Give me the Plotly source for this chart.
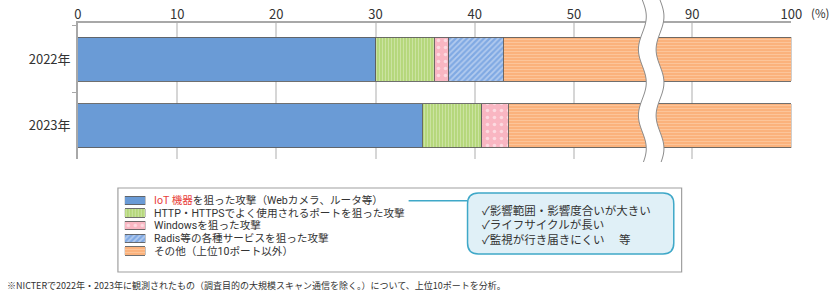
import math
import plotly.graph_objects as go

# ---------------- data ----------------
years = ["2022年", "2023年"]
iot = [30.0, 34.7]
http = [5.9, 6.0]
windows = [1.5, 2.7]
radis = [5.5, None]
other = [57.1, 56.6]

series_names = [
    '<span style="color:#e8403a">IoT 機器</span>を狙った攻撃（Webカメラ、ルータ等）',
    "HTTP・HTTPSでよく使用されるポートを狙った攻撃",
    "Windowsを狙った攻撃",
    "Radis等の各種サービスを狙った攻撃",
    "その他（上位10ポート以外）",
]
series_values = [iot, http, windows, radis, other]

left_ticks = [0, 10, 20, 30, 40, 50]
right_ticks = [90, 100]

callout_lines = [
    "✓影響範囲・影響度合いが大きい",
    "✓ライフサイクルが長い",
    "✓監視が行き届きにくい　 等",
]
footnote = "※NICTERで2022年・2023年に観測されたもの（調査目的の大規模スキャン通信を除く。）について、上位10ポートを分析。"

# ---------------- styles ----------------
W, H = 837, 296
FONT = "Noto Sans CJK JP, Noto Sans, sans-serif"
TFONT = "Roboto, Noto Sans CJK JP, sans-serif"
TXT = "#333333"
OUTLINE = dict(color="#5f5f5f", width=0.9)

markers = [
    dict(color="#6a9bd6", line=OUTLINE),
    dict(color="#b5d77b", line=OUTLINE,
         pattern=dict(shape="|", fillmode="overlay", fgcolor="#e4f2cc", size=3, solidity=0.35)),
    dict(color="#f9b6c2", line=OUTLINE,
         pattern=dict(shape=".", fillmode="overlay", fgcolor="#ffffff", size=7, solidity=0.2)),
    dict(color="#80a9e3", line=OUTLINE,
         pattern=dict(shape="/", fillmode="overlay", fgcolor="#e6eefa", size=4, solidity=0.45)),
    dict(color="#fbb27c", line=OUTLINE,
         pattern=dict(shape="-", fillmode="overlay", fgcolor="#fddcbf", size=3, solidity=0.3)),
]


def X(px):
    return px / W


def Y(py):
    return 1 - py / H


# plot geometry (pixels)
PL, PR = 75.3, 801.7
PT, PB = 23.0, 159.0
PXU = 10.1            # pixels per percentage unit
BREAK_L, BREAK_R = 650.0, 668.0
AMP = 4.0
LEFT_END = BREAK_L + AMP
RIGHT_START = BREAK_R - AMP

# legend text geometry
LEG_FONT = 10.6
LEG_STEP = 12.7
LEG_Y0 = 200.3
CALL_FONT = 11.5
CALL_Y = [210.7, 225.2, 239.7]

fig = go.Figure()

for name, vals, mk in zip(series_names, series_values, markers):
    for xa in ("x", "x2"):
        fig.add_trace(go.Bar(
            y=years, x=vals, orientation="h", name=name, marker=mk,
            xaxis=xa, yaxis="y", showlegend=False, hoverinfo="skip",
        ))

# legend swatches (own small axes)
for i, (name, mk) in enumerate(zip(series_names, markers)):
    fig.add_trace(go.Bar(
        y=[i], x=[1], orientation="h", marker=mk,
        xaxis="x3", yaxis="y3", showlegend=False, hoverinfo="skip",
    ))

axis_common = dict(
    showgrid=True, gridcolor="#d6d6d6", gridwidth=1.5,
    showline=True, linecolor="#a8a8a8", linewidth=1.5,
    side="top", ticks="", zeroline=False, ticklabelstandoff=-3,
    tickfont=dict(family=FONT, size=13, color=TXT),
    fixedrange=True,
)

left_range_max = (LEFT_END - PL) / PXU
right_range_min = 100 - (PR - RIGHT_START) / PXU

n = len(series_names)
sw_top = LEG_Y0 - LEG_STEP / 2
sw_bot = LEG_Y0 + (n - 1) * LEG_STEP + LEG_STEP / 2

fig.update_layout(
    width=W, height=H,
    margin=dict(l=0, r=0, t=0, b=0),
    paper_bgcolor="white", plot_bgcolor="white",
    barmode="stack", bargap=0.333,
    font=dict(family=FONT, color=TXT),
    xaxis=dict(axis_common, domain=[X(PL), X(LEFT_END)], range=[0, left_range_max],
               tickvals=left_ticks, anchor="y"),
    xaxis2=dict(axis_common, domain=[X(RIGHT_START), X(PR)], range=[right_range_min, 100],
                tickvals=right_ticks, anchor="y"),
    yaxis=dict(domain=[Y(PB), Y(PT)], range=[1.5, -0.545], type="category",
               showline=True, linecolor="#a8a8a8", linewidth=1.5,
               ticks="outside", ticklen=4, tickcolor="#a8a8a8", tickson="boundaries",
               ticklabelstandoff=3,
               showgrid=False, tickfont=dict(family=FONT, size=13, color=TXT),
               fixedrange=True),
    xaxis3=dict(domain=[X(123), X(144)], range=[0, 1], visible=False, anchor="y3",
                fixedrange=True),
    yaxis3=dict(domain=[Y(sw_bot), Y(sw_top)], range=[n - 0.5, -0.5], visible=False,
                anchor="x3", fixedrange=True),
)

shapes = []

# axis break: white band between two wavy lines
ys = [y * 2 for y in range(-1, 82)]
def wave(c, y):
    return c + AMP * math.sin(2 * math.pi * y / 66.0)

pts_l = [(wave(BREAK_L, y), y) for y in ys]
pts_r = [(wave(BREAK_R, y), y) for y in reversed(ys)]
fill_path = "M" + " L".join(f"{X(a):.5f},{Y(b):.5f}" for a, b in pts_l + pts_r) + " Z"
shapes.append(dict(type="path", xref="paper", yref="paper", path=fill_path,
                   fillcolor="white", line=dict(width=0), layer="above"))
for c in (BREAK_L, BREAK_R):
    p = "M" + " L".join(f"{X(wave(c, y)):.5f},{Y(y):.5f}" for y in ys)
    shapes.append(dict(type="path", xref="paper", yref="paper", path=p,
                       line=dict(color="#8c8c8c", width=1), layer="above"))

# legend frame
shapes.append(dict(type="rect", xref="paper", yref="paper",
                   x0=X(116), x1=X(690), y0=Y(272), y1=Y(188),
                   line=dict(color="#a0a0a0", width=1.2)))

# callout connector and rounded box
shapes.append(dict(type="line", xref="paper", yref="paper",
                   x0=X(412), x1=X(472), y0=Y(LEG_Y0 + 0.5), y1=Y(LEG_Y0 + 0.5),
                   line=dict(color="#3fa8c8", width=1.5)))
bx0, bx1, by0, by1, r = 472, 682, 193, 254, 11
rr = (f"M{X(bx0 + r)},{Y(by0)} L{X(bx1 - r)},{Y(by0)} Q{X(bx1)},{Y(by0)} {X(bx1)},{Y(by0 + r)} "
      f"L{X(bx1)},{Y(by1 - r)} Q{X(bx1)},{Y(by1)} {X(bx1 - r)},{Y(by1)} "
      f"L{X(bx0 + r)},{Y(by1)} Q{X(bx0)},{Y(by1)} {X(bx0)},{Y(by1 - r)} "
      f"L{X(bx0)},{Y(by0 + r)} Q{X(bx0)},{Y(by0)} {X(bx0 + r)},{Y(by0)} Z")
shapes.append(dict(type="path", xref="paper", yref="paper", path=rr,
                   fillcolor="#e0f0f7", line=dict(color="#3fa8c8", width=1.5)))

fig.update_layout(shapes=shapes)

annotations = []
for i, name in enumerate(series_names):
    annotations.append(dict(x=X(152), y=Y(LEG_Y0 + i * LEG_STEP), xref="paper", yref="paper",
                            text=name, showarrow=False, borderpad=0,
                            xanchor="left", yanchor="middle",
                            font=dict(family=TFONT, size=LEG_FONT, color=TXT)))
for line, ly in zip(callout_lines, CALL_Y):
    annotations.append(dict(x=X(486), y=Y(ly), xref="paper", yref="paper",
                            text=line, showarrow=False, borderpad=0,
                            xanchor="left", yanchor="middle",
                            font=dict(family=TFONT, size=CALL_FONT, color=TXT)))
annotations.append(dict(x=X(820), y=Y(13), xref="paper", yref="paper",
                        text="(%)", showarrow=False, xanchor="left", yanchor="middle",
                        font=dict(family=FONT, size=11.5, color=TXT)))
annotations.append(dict(x=X(1), y=Y(285), xref="paper", yref="paper",
                        text=footnote, showarrow=False, xanchor="left", yanchor="middle",
                        font=dict(family=FONT, size=9, color=TXT)))
fig.update_layout(annotations=annotations)

fig.write_html("out.html")
